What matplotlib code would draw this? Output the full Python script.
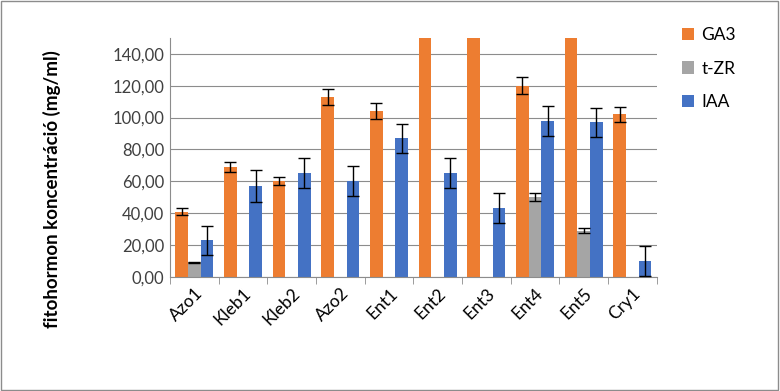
import numpy as np
import matplotlib
matplotlib.use('Agg')
from matplotlib import pyplot as plt

plt.rcParams['font.family'] = ['Lato', 'DejaVu Sans']

categories = ['Azo1', 'Kleb1', 'Kleb2', 'Azo2', 'Ent1', 'Ent2', 'Ent3', 'Ent4', 'Ent5', 'Cry1']
# values above 150 are clipped at the top of the axis in the original chart
ga3 = [41, 69, 60, 113, 104, 160, 160, 120, 160, 102]
ga3_err = [2, 3, 2.5, 5, 5, 0, 0, 5.5, 0, 4.5]
tzr = [9, 0, 0, 0, 0, 0, 0, 50, 29, 0]
tzr_err = [0.5, 0, 0, 0, 0, 0, 0, 2.5, 1.5, 0]
iaa = [23, 57, 65, 60, 87, 65, 43, 98, 97, 10]
iaa_err = [9, 10, 9.5, 9.5, 9, 9.5, 9.5, 9.5, 9, 9.5]
yticks = [0, 20, 40, 60, 80, 100, 120, 140]

fig = plt.figure(figsize=(7.8, 3.91), dpi=100)
fig.patches.append(plt.Rectangle((0.001, 0.002), 0.997, 0.995, transform=fig.transFigure,
                                 fill=False, edgecolor='#8c8c8c', linewidth=1))
ax = fig.add_axes([0.218, 0.292, 0.624, 0.611])

x = np.arange(len(categories))
w = 0.26
ekw = dict(ecolor='black', elinewidth=1, capsize=4, capthick=1)

def err_or_none(e):
    return [v if v > 0 else np.nan for v in e]

ax.bar(x - w, ga3, w, color='#ED7D31', label='GA3', zorder=2)
ax.errorbar(x - w, ga3, yerr=err_or_none(ga3_err), fmt='none', zorder=3, **ekw)
tzr_x = [xi for xi, v in zip(x, tzr) if v > 0]
tzr_v = [v for v in tzr if v > 0]
tzr_e = [e for v, e in zip(tzr, tzr_err) if v > 0]
ax.bar(x, tzr, w, color='#A5A5A5', label='t-ZR', zorder=2)
ax.errorbar(tzr_x, tzr_v, yerr=tzr_e, fmt='none', zorder=3, **ekw)
ax.bar(x + w, iaa, w, color='#4472C4', label='IAA', zorder=2)
ax.errorbar(x + w, iaa, yerr=iaa_err, fmt='none', zorder=3, **ekw)

ax.set_ylim(0, 150)
ax.set_xlim(-0.5, len(categories) - 0.5)
ax.set_yticks(yticks)
ax.set_yticklabels([f'{v:.2f}'.replace('.', ',') for v in yticks], fontsize=12, color='#404040')
ax.yaxis.grid(True, color='#8c8c8c', linewidth=0.8, zorder=0)
ax.set_axisbelow(True)

ax.set_xticks(x)
ax.set_xticklabels(categories, rotation=45, ha='right', rotation_mode='anchor', fontsize=12.5)
ax.set_xticks(np.arange(-0.5, len(categories)), minor=True)
ax.tick_params(axis='x', which='major', length=0, pad=6)
ax.tick_params(axis='x', which='minor', length=5, color='#8c8c8c')
ax.tick_params(axis='y', length=0, pad=4)

for s in ['top', 'right']:
    ax.spines[s].set_visible(False)
ax.spines['left'].set_color('#8c8c8c')
ax.spines['bottom'].set_color('#8c8c8c')

ax.set_ylabel('fitohormon koncentráció (mg/ml)', fontsize=13.5, fontweight='bold')
ax.yaxis.set_label_coords(-0.225, 0.368)

ax.legend(loc='upper left', bbox_to_anchor=(1.02, 1.11), frameon=False, fontsize=12.5,
          handlelength=0.7, handleheight=0.7, labelspacing=1.0, handletextpad=0.4)

plt.savefig('out.png', dpi=100)
